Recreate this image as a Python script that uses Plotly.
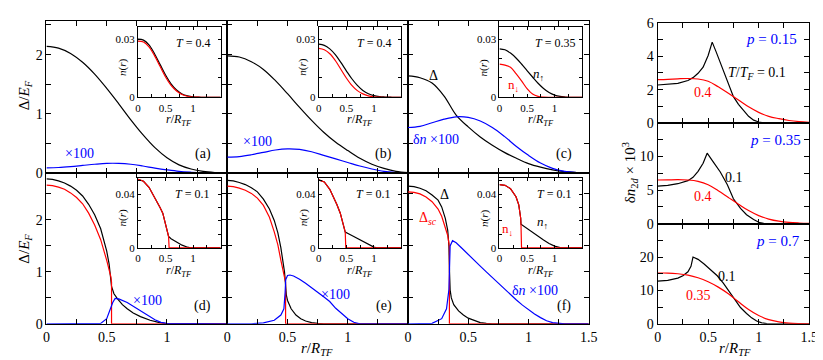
import plotly.graph_objects as go

FONT = "Liberation Serif"
W, H = 823, 360
BLACK, RED, BLUE = "#000000", "#ff0000", "#0000ff"

# ---------------- data ----------------
R16 = [0, 0.1, 0.2, 0.3, 0.4, 0.5, 0.6, 0.7, 0.8, 0.9, 1.0, 1.1, 1.2, 1.3, 1.4, 1.5]

# top row: T=0.4, 0.4, 0.35 (gap and delta-n x100)
GAP_A = [2.14, 2.11, 2.02, 1.87, 1.67, 1.43, 1.17, 0.90, 0.65, 0.43, 0.26, 0.14, 0.07, 0.03, 0.01, 0.0]
DN_A = [0.09, 0.095, 0.11, 0.13, 0.15, 0.165, 0.165, 0.15, 0.12, 0.085, 0.055, 0.03, 0.015, 0.005, 0.0, 0.0]
GAP_B = [1.98, 1.96, 1.88, 1.75, 1.56, 1.34, 1.11, 0.89, 0.69, 0.52, 0.38, 0.25, 0.15, 0.08, 0.03, 0.01]
DN_B = [0.27, 0.28, 0.31, 0.35, 0.39, 0.41, 0.40, 0.36, 0.30, 0.24, 0.18, 0.12, 0.07, 0.03, 0.01, 0.0]
GAP_C = [1.64, 1.61, 1.52, 1.30, 0.98, 0.78, 0.61, 0.47, 0.35, 0.25, 0.16, 0.10, 0.055, 0.025, 0.01, 0.0]
DN_C = [0.77, 0.79, 0.85, 0.91, 0.95, 0.94, 0.88, 0.77, 0.62, 0.45, 0.30, 0.17, 0.08, 0.03, 0.01, 0.0]

# top insets n_up / n_down
NU_A = [0.030, 0.0295, 0.027, 0.0225, 0.017, 0.0115, 0.007, 0.0038, 0.0018, 0.0008, 0.0003, 0.0001, 0, 0, 0, 0]
ND_A = [0.029, 0.0285, 0.026, 0.0215, 0.016, 0.0105, 0.0062, 0.0033, 0.0015, 0.0006, 0.0002, 0.0001, 0, 0, 0, 0]
NU_B = [0.0274, 0.0268, 0.0250, 0.0220, 0.0180, 0.0137, 0.0096, 0.0062, 0.0036, 0.0019, 0.0009, 0.0004, 0.0002, 0.0001, 0, 0]
ND_B = [0.0252, 0.0245, 0.0225, 0.0190, 0.0145, 0.0100, 0.0062, 0.0035, 0.0018, 0.0008, 0.0003, 0.0001, 0, 0, 0, 0]
NU_C = [0.025, 0.0245, 0.0228, 0.0203, 0.0172, 0.0138, 0.0105, 0.0073, 0.0046, 0.0025, 0.0012, 0.0005, 0.0002, 0, 0, 0]
ND_C = [0.0171, 0.0166, 0.0155, 0.0122, 0.0085, 0.0045, 0.0017, 0.0005, 0.0001, 0, 0, 0, 0, 0, 0, 0]

# bottom row: T=0.1
R_D_GAP = [0, 0.05, 0.1, 0.15, 0.2, 0.25, 0.3, 0.35, 0.4, 0.45, 0.5, 0.52, 0.54, 0.56, 0.59, 0.63, 0.67, 0.72, 0.78, 0.86, 0.93, 1.0, 1.5]
GAP_D = [2.79, 2.78, 2.75, 2.71, 2.65, 2.57, 2.46, 2.30, 2.10, 1.83, 1.40, 1.15, 0.72, 0.58, 0.48, 0.37, 0.29, 0.21, 0.14, 0.07, 0.03, 0.0, 0.0]
R_D_SC = [0, 0.05, 0.1, 0.15, 0.2, 0.25, 0.3, 0.35, 0.4, 0.45, 0.5, 0.52, 0.535, 0.54, 0.54, 1.5]
SC_D = [2.67, 2.66, 2.63, 2.59, 2.52, 2.43, 2.31, 2.13, 1.90, 1.62, 1.22, 1.05, 0.9, 0.8, 0.0, 0.0]
R_D_DN = [0, 0.4, 0.45, 0.5, 0.53, 0.55, 0.57, 0.6, 0.67, 0.72, 0.78, 0.85, 0.9, 0.95, 1.0, 1.5]
DN_D = [0, 0, 0.01, 0.1, 0.29, 0.41, 0.49, 0.48, 0.41, 0.34, 0.26, 0.15, 0.08, 0.03, 0.01, 0]

R_E_GAP = [0, 0.05, 0.1, 0.15, 0.2, 0.25, 0.3, 0.35, 0.39, 0.42, 0.445, 0.46, 0.475, 0.484, 0.49, 0.5, 0.53, 0.57, 0.61, 0.65, 0.7, 0.75, 0.8, 1.5]
GAP_E = [2.76, 2.75, 2.72, 2.68, 2.62, 2.54, 2.40, 2.21, 1.99, 1.75, 1.46, 1.25, 1.0, 0.75, 0.56, 0.45, 0.29, 0.17, 0.1, 0.055, 0.025, 0.01, 0, 0]
R_E_SC = [0, 0.05, 0.1, 0.15, 0.2, 0.25, 0.3, 0.35, 0.39, 0.42, 0.445, 0.46, 0.475, 0.484, 0.484, 1.5]
SC_E = [2.65, 2.64, 2.61, 2.57, 2.51, 2.42, 2.28, 2.05, 1.77, 1.52, 1.22, 1.05, 0.88, 0.8, 0, 0]
R_E_DN = [0, 0.2, 0.3, 0.39, 0.445, 0.47, 0.48, 0.485, 0.5, 0.52, 0.55, 0.6, 0.65, 0.7, 0.75, 0.8, 0.85, 0.9, 0.95, 1.0, 1.05, 1.1, 1.5]
DN_E = [0, 0, 0.02, 0.07, 0.17, 0.29, 0.6, 0.85, 0.93, 0.94, 0.92, 0.86, 0.78, 0.70, 0.61, 0.52, 0.43, 0.30, 0.19, 0.10, 0.03, 0, 0]

R_F_GAP = [0, 0.05, 0.1, 0.15, 0.2, 0.25, 0.28, 0.31, 0.33, 0.34, 0.345, 0.35, 0.36, 0.38, 0.42, 0.46, 0.5, 0.55, 0.6, 0.65, 0.7, 1.5]
GAP_F = [2.65, 2.64, 2.61, 2.56, 2.48, 2.38, 2.25, 2.03, 1.8, 1.5, 1.0, 0.65, 0.5, 0.37, 0.25, 0.17, 0.11, 0.06, 0.025, 0.008, 0, 0]
R_F_SC = [0, 0.05, 0.1, 0.15, 0.2, 0.25, 0.28, 0.31, 0.33, 0.34, 0.344, 0.344, 1.5]
SC_F = [2.54, 2.53, 2.50, 2.44, 2.35, 2.21, 2.07, 1.86, 1.7, 1.55, 1.45, 0, 0]
R_F_DN = [0, 0.1, 0.2, 0.28, 0.32, 0.34, 0.345, 0.35, 0.37, 0.4, 0.45, 0.5, 0.55, 0.6, 0.65, 0.7, 0.75, 0.8, 0.85, 0.9, 0.95, 1.0, 1.05, 1.1, 1.15, 1.2, 1.25, 1.3, 1.5]
DN_F = [0, 0.005, 0.01, 0.1, 0.29, 0.66, 1.0, 1.5, 1.6, 1.56, 1.45, 1.33, 1.22, 1.11, 1.0, 0.89, 0.78, 0.67, 0.56, 0.46, 0.36, 0.27, 0.19, 0.12, 0.06, 0.025, 0.008, 0, 0]

# bottom insets
R_ID_UP = [0, 0.1, 0.2, 0.27, 0.35, 0.4, 0.45, 0.5, 0.53, 0.555, 0.6, 0.7, 0.8, 0.9, 0.95, 1.5]
NU_D = [0.051, 0.0495, 0.045, 0.040, 0.034, 0.030, 0.0258, 0.018, 0.013, 0.0085, 0.0068, 0.0042, 0.002, 0.0005, 0, 0]
R_ID_DN = [0, 0.1, 0.2, 0.27, 0.35, 0.4, 0.45, 0.5, 0.53, 0.555, 0.565, 1.5]
ND_D = [0.051, 0.0495, 0.045, 0.040, 0.034, 0.030, 0.0258, 0.018, 0.013, 0.0085, 0, 0]
R_IE_UP = [0, 0.1, 0.2, 0.27, 0.33, 0.39, 0.45, 0.48, 0.6, 0.7, 0.8, 0.9, 1.0, 1.05, 1.5]
NU_E = [0.0505, 0.049, 0.0435, 0.0376, 0.032, 0.0258, 0.0176, 0.0117, 0.0092, 0.0070, 0.0049, 0.0028, 0.0006, 0, 0]
R_IE_DN = [0, 0.1, 0.2, 0.27, 0.33, 0.39, 0.45, 0.48, 0.49, 1.5]
ND_E = [0.0505, 0.049, 0.0435, 0.0376, 0.032, 0.0258, 0.0176, 0.0117, 0, 0]
R_IF_UP = [0, 0.1, 0.2, 0.3, 0.35, 0.37, 0.385, 0.39, 0.45, 0.5, 0.6, 0.7, 0.8, 0.9, 1.0, 1.1, 1.15, 1.5]
NU_F = [0.047, 0.0465, 0.044, 0.038, 0.032, 0.027, 0.022, 0.0176, 0.0158, 0.0143, 0.0113, 0.0085, 0.0058, 0.0033, 0.0013, 0.0002, 0, 0]
R_IF_DN = [0, 0.1, 0.2, 0.3, 0.35, 0.37, 0.385, 0.39, 0.4, 1.5]
ND_F = [0.047, 0.0465, 0.044, 0.038, 0.032, 0.027, 0.022, 0.0176, 0, 0]

# right column: delta n_2d x 10^3
R_P15_LO = [0, 0.1, 0.2, 0.3, 0.35, 0.4, 0.45, 0.5, 0.54, 0.58, 0.62, 0.66, 0.7, 0.75, 0.8, 0.85, 0.9, 0.95, 1.0, 1.05, 1.1, 1.5]
P15_LO = [2.28, 2.31, 2.38, 2.55, 2.72, 2.98, 3.35, 4.05, 4.85, 4.25, 3.6, 2.95, 2.3, 1.58, 1.12, 0.75, 0.4, 0.17, 0.06, 0.015, 0, 0]
P15_HI = [2.6, 2.62, 2.65, 2.67, 2.64, 2.5, 2.17, 1.78, 1.38, 0.97, 0.64, 0.4, 0.26, 0.15, 0.08, 0.04]
R_P35_LO = [0, 0.1, 0.2, 0.3, 0.35, 0.4, 0.45, 0.49, 0.55, 0.62, 0.69, 0.75, 0.82, 0.88, 0.95, 1.01, 1.05, 1.1, 1.5]
P35_LO = [5.6, 5.7, 5.95, 6.4, 6.9, 7.8, 9.0, 10.5, 9.2, 7.7, 5.8, 3.7, 2.27, 1.33, 0.62, 0.14, 0.03, 0, 0]
P35_HI = [6.5, 6.52, 6.55, 6.5, 6.3, 5.8, 4.9, 3.9, 2.9, 1.95, 1.2, 0.68, 0.36, 0.18, 0.09, 0.04]
R_P70_LO = [0, 0.1, 0.2, 0.25, 0.3, 0.33, 0.35, 0.4, 0.46, 0.52, 0.59, 0.65, 0.72, 0.77, 0.82, 0.88, 0.93, 0.98, 1.03, 1.08, 1.15, 1.5]
P70_LO = [12.8, 13.0, 13.7, 14.4, 15.6, 17.2, 20.0, 19.3, 17.9, 16.3, 14.4, 12.2, 9.3, 6.9, 4.9, 3.1, 1.8, 0.86, 0.3, 0.05, 0, 0]
P70_HI = [15.2, 15.2, 15.0, 14.6, 13.8, 12.6, 11.0, 9.0, 6.6, 4.3, 2.5, 1.25, 0.6, 0.25, 0.1, 0.04]

# ---------------- layout helpers ----------------
fig = go.Figure()


def fx(p):
    return p / W


def fy(p):
    return 1 - p / H


def add_axes(n, x0, x1, y0, y1, xr, yr, xt, xtxt, yt, ytxt, size=14, tl=5):
    s = "" if n == 1 else str(n)
    common = dict(ticks="inside", ticklen=tl, tickwidth=1, tickcolor="black",
                  mirror="allticks", showline=True, linecolor="black", linewidth=1,
                  showgrid=False, zeroline=False, tickfont=dict(family=FONT, size=size, color="black"))
    fig.update_layout(**{
        "xaxis" + s: dict(domain=[fx(x0), fx(x1)], range=xr, anchor="y" + s,
                          tickvals=xt, ticktext=xtxt, **common),
        "yaxis" + s: dict(domain=[fy(y1), fy(y0)], range=yr, anchor="x" + s,
                          tickvals=yt, ticktext=ytxt, **common),
    })
    return s


def line(s, x, y, color, shape="linear", width=1.2):
    fig.add_trace(go.Scatter(x=x, y=y, xaxis="x" + s, yaxis="y" + s, mode="lines",
                             line=dict(color=color, width=width, shape=shape),
                             showlegend=False, hoverinfo="skip"))


XT = [0, 0.25, 0.5, 0.75, 1, 1.25, 1.5]
X_NONE = [""] * 7
X_LAB = ["0", "", "0.5", "", "1", "", ""]
YT_MAIN = [0, 0.5, 1, 1.5, 2, 2.5]
Y_LAB = ["0", "", "1", "", "2", ""]
Y_NONE = [""] * 6

lefts = [35, 218.7, 402.3]
TOP, MID, BOT = 6.7, 165, 322.3
n = 0
main = []
for row in range(2):
    for col in range(3):
        n += 1
        xl = lefts[col]
        xr_ = xl + 183.7
        if row == 0:
            s = add_axes(n, xl, xr_, TOP, MID, [0, 1.5], [0, 2.56], XT, X_NONE,
                         YT_MAIN, Y_LAB if col == 0 else Y_NONE)
        else:
            xtxt = ["0", "", "0.5", "", "1", "", "1.5"] if col == 2 else X_LAB
            s = add_axes(n, xl, xr_, MID, BOT, [0, 1.5], [0, 2.9], XT, xtxt,
                         YT_MAIN, Y_LAB if col == 0 else Y_NONE)
        main.append(s)

insets = []
for row in range(2):
    for col in range(3):
        n += 1
        xl = lefts[col] + 93
        if row == 0:
            s = add_axes(n, xl, xl + 84, 13, 86, [0, 1.5], [0, 0.036], XT, X_LAB,
                         [0, 0.01, 0.02, 0.03], ["0", "", "", "0.03"], size=11, tl=3)
        else:
            s = add_axes(n, xl, xl + 84, 170, 243, [0, 1.5], [0, 0.052], XT, X_LAB,
                         [0, 0.01, 0.02, 0.03, 0.04, 0.05], ["0", "", "", "", "0.04", ""], size=11, tl=3)
        insets.append(s)

RX0, RX1 = 656, 810
X_R_NONE = X_NONE
X_R_LAB = ["0", "", "0.5", "", "1", "", "1.5"]
n += 1
r1 = add_axes(n, RX0, RX1, 8.3, 112.7, [0, 1.5], [0, 6], XT, X_R_NONE,
              [0, 1, 2, 3, 4, 5, 6], ["0", "", "2", "", "4", "", "6"])
n += 1
r2 = add_axes(n, RX0, RX1, 112.7, 217.7, [0, 1.5], [0, 15], XT, X_R_NONE,
              [0, 2.5, 5, 7.5, 10, 12.5, 15], ["0", "", "5", "", "10", "", ""])
n += 1
r3 = add_axes(n, RX0, RX1, 217.7, 322.3, [0, 1.5], [0, 30], XT, X_R_LAB,
              [0, 5, 10, 15, 20, 25, 30], ["0", "", "10", "", "20", "", ""])

# ---------------- traces ----------------
sp = "spline"
line(main[0], R16, GAP_A, BLACK, sp)
line(main[0], R16, DN_A, BLUE, sp)
line(main[1], R16, GAP_B, BLACK, sp)
line(main[1], R16, DN_B, BLUE, sp)
line(main[2], R16, GAP_C, BLACK, sp)
line(main[2], R16, DN_C, BLUE, sp)

line(main[3], R_D_GAP, GAP_D, BLACK)
line(main[3], R_D_SC, SC_D, RED)
line(main[3], R_D_DN, DN_D, BLUE)
line(main[4], R_E_GAP, GAP_E, BLACK)
line(main[4], R_E_SC, SC_E, RED)
line(main[4], R_E_DN, DN_E, BLUE)
line(main[5], R_F_GAP, GAP_F, BLACK)
line(main[5], R_F_SC, SC_F, RED)
line(main[5], R_F_DN, DN_F, BLUE)

line(insets[0], R16, NU_A, BLACK, sp)
line(insets[0], R16, ND_A, RED, sp)
line(insets[1], R16, NU_B, BLACK, sp)
line(insets[1], R16, ND_B, RED, sp)
line(insets[2], R16, NU_C, BLACK, sp)
line(insets[2], R16, ND_C, RED, sp)
line(insets[3], R_ID_UP, NU_D, BLACK)
line(insets[3], R_ID_DN, ND_D, RED)
line(insets[4], R_IE_UP, NU_E, BLACK)
line(insets[4], R_IE_DN, ND_E, RED)
line(insets[5], R_IF_UP, NU_F, BLACK)
line(insets[5], R_IF_DN, ND_F, RED)

line(r1, R_P15_LO, P15_LO, BLACK)
line(r1, R16, P15_HI, RED, sp)
line(r2, R_P35_LO, P35_LO, BLACK)
line(r2, R16, P35_HI, RED, sp)
line(r3, R_P70_LO, P70_LO, BLACK)
line(r3, R16, P70_HI, RED, sp)

# ---------------- text ----------------
ann = []


def txt(t, x, y, color="black", size=14, angle=0):
    ann.append(dict(text=t, x=fx(x), y=fy(y), xref="paper", yref="paper", showarrow=False,
                    xanchor="center", yanchor="middle", textangle=angle,
                    font=dict(family=FONT, size=size, color=color)))


RTF = "<i>r</i>/<i>R</i><sub><i>TF</i></sub>"
NR = "<i>n</i>(<i>r</i>)"
txt("Δ/<i>E</i><sub><i>F</i></sub>", 13, 84, size=15, angle=-90)
txt("Δ/<i>E</i><sub><i>F</i></sub>", 13, 244, size=15, angle=-90)
txt(RTF, 310, 348, size=15)
txt(RTF, 735, 348, size=15)
txt("δ<i>n</i><sub>2<i>d</i></sub> × 10<sup>3</sup>", 628, 165, size=15, angle=-90)

for i, lab in enumerate(["(a)", "(b)", "(c)"]):
    txt(lab, lefts[i] + 159, 145)
for i, lab in enumerate(["(d)", "(e)", "(f)"]):
    txt(lab, lefts[i] + 159, 304)

txt("×100", 69, 144, BLUE)
txt("×100", 249, 132, BLUE)
txt("Δ", 428, 63)
txt("δ<i>n</i> ×100", 431, 130, BLUE)
txt("×100", 138, 298, BLUE)
txt("×100", 329, 292, BLUE)
txt("Δ", 439, 187)
txt("Δ<sub><i>sc</i></sub>", 423, 212, RED)
txt("δ<i>n</i> ×100", 531, 287, BLUE)

temps_top = ["<i>T</i> = 0.4", "<i>T</i> = 0.4", "<i>T</i> = 0.35"]
for i in range(3):
    il = lefts[i] + 93
    txt(temps_top[i], il + 56, 29, size=12)
    txt(NR, il - 16, 55, size=11, angle=-90)
    txt(RTF, il + 42, 110, size=12)
    txt("<i>T</i> = 0.1", il + 55, 187, size=12)
    txt(NR, il - 16, 212, size=11, angle=-90)
    txt(RTF, il + 42, 267, size=12)

txt("<i>n</i><sub>↑</sub>", 535, 62, size=13)
txt("n<sub>↓</sub>", 510, 74, RED, size=13)
txt("<i>n</i><sub>↑</sub>", 539, 216, size=13)
txt("n<sub>↓</sub>", 503, 224, RED, size=13)

txt("<i>p</i> = 0.15", 772, 25, BLUE, size=15)
txt("<i>T</i>/<i>T</i><sub><i>F</i></sub> = 0.1", 757, 61, size=14)
txt("0.4", 702, 81, RED)
txt("<i>p</i> = 0.35", 776, 130, BLUE, size=15)
txt("0.1", 734, 170)
txt("0.4", 702, 189, RED)
txt("<i>p</i> = 0.7", 778, 236, BLUE, size=15)
txt("0.1", 726, 273)
txt("0.35", 698, 293, RED)

fig.update_layout(width=W, height=H, margin=dict(l=0, r=0, t=0, b=0),
                  paper_bgcolor="white", plot_bgcolor="rgba(0,0,0,0)",
                  font=dict(family=FONT, color="black"), annotations=ann)

fig.write_html("out.html")
